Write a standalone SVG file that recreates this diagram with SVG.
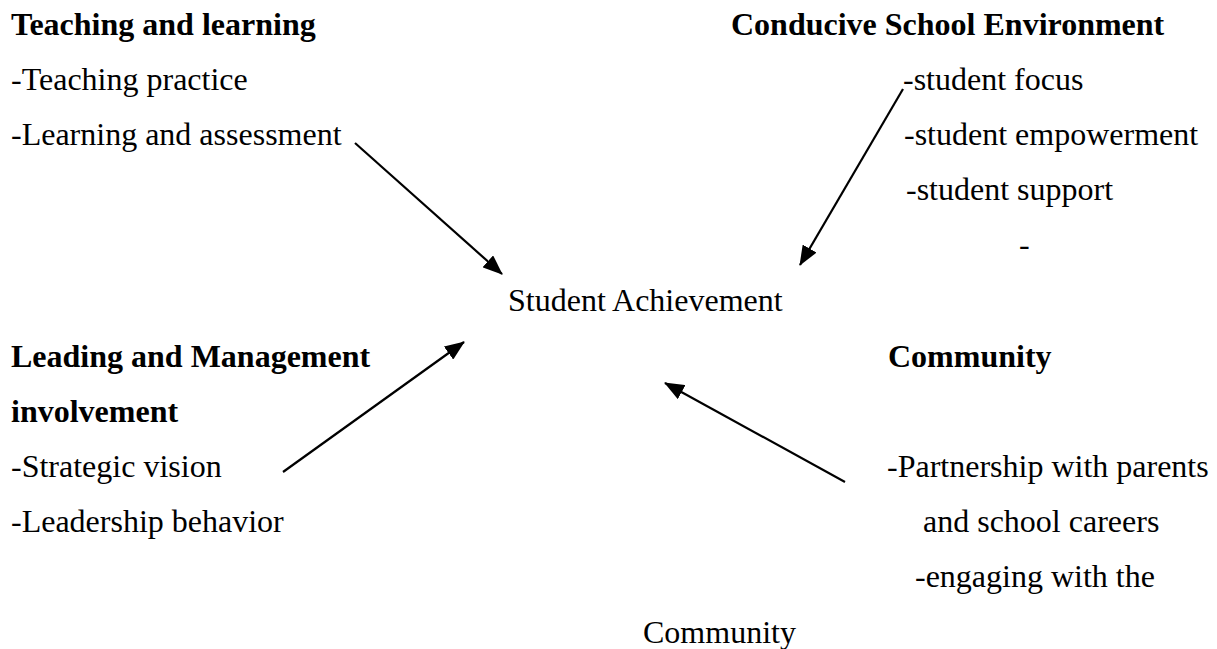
<svg xmlns="http://www.w3.org/2000/svg" width="1217" height="649" viewBox="0 0 1217 649">
<style>
text{font-size:32px;fill:#000}
.b{font-weight:bold}
.c line{stroke:#000;stroke-width:2.2;fill:none}
</style>
<defs>
<marker id="ah" markerUnits="userSpaceOnUse" markerWidth="20" markerHeight="16" refX="19" refY="8" orient="auto">
<path d="M0,0 L20,8 L0,16 z" fill="#000"/>
</marker>
</defs>
<rect width="1217" height="649" fill="#fff"/>
<g font-family="Liberation Serif, serif">
<g id="teaching">
<text class="b" x="11" y="35">Teaching and learning</text>
<text x="11" y="90">-Teaching practice</text>
<text x="11" y="145">-Learning and assessment</text>
</g>
<g id="environment">
<text class="b" x="731" y="35">Conducive School Environment</text>
<text x="903" y="90">-student focus</text>
<text x="904" y="145">-student empowerment</text>
<text x="906" y="200">-student support</text>
<text x="1019" y="255">-</text>
</g>
<g id="achievement">
<text x="508" y="311">Student Achievement</text>
</g>
<g id="leading">
<text class="b" x="11" y="367">Leading and Management</text>
<text class="b" x="11" y="422">involvement</text>
<text x="11" y="477">-Strategic vision</text>
<text x="11" y="532">-Leadership behavior</text>
</g>
<g id="community">
<text class="b" x="888" y="367">Community</text>
<text x="887" y="477">-Partnership with parents</text>
<text x="923" y="532">and school careers</text>
<text x="915" y="587">-engaging with the</text>
<text x="643" y="643">Community</text>
</g>
</g>
<g id="connectors" class="c">
<line x1="355" y1="143" x2="502" y2="274" marker-end="url(#ah)"/>
<line x1="903" y1="89" x2="800" y2="265" marker-end="url(#ah)"/>
<line x1="283" y1="472" x2="464" y2="342" marker-end="url(#ah)"/>
<line x1="845" y1="482" x2="665" y2="383" marker-end="url(#ah)"/>
</g>
</svg>
